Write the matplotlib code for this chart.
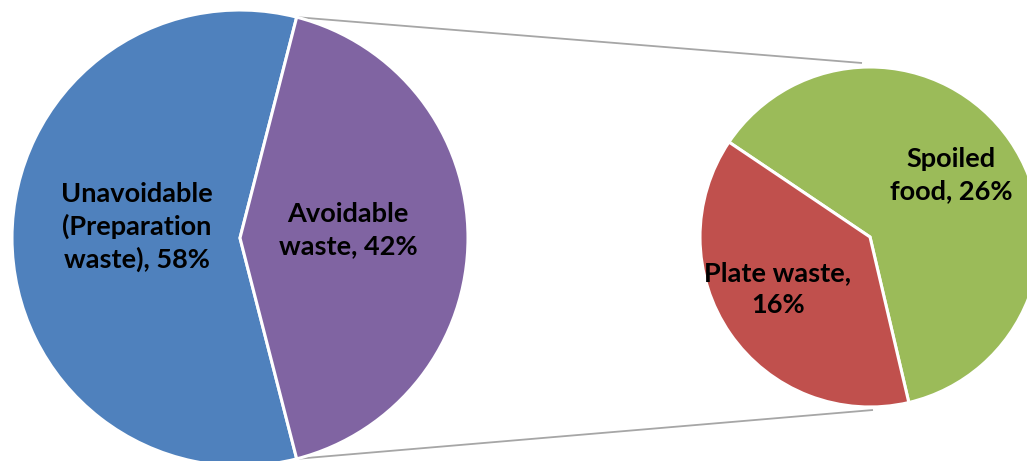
import numpy as np
import matplotlib.pyplot as plt

# main pie
main_labels = ['Unavoidable\n(Preparation\nwaste)', 'Avoidable\nwaste']
main_values = [58, 42]
main_colors = ['#4F81BD', '#8064A2']

# breakdown of the avoidable share
sub_labels = ['Spoiled\nfood', 'Plate waste,\n']
sub_values = [26, 16]
sub_colors = ['#9BBB59', '#C0504D']

W, H = 1027, 461
fig = plt.figure(figsize=(W / 100, H / 100), dpi=100)
ax = fig.add_axes([0, 0, 1, 1])

c1, r1 = (240, 223), 228
c2, r2 = (870, 224), 170

wedges1, _ = ax.pie(main_values, colors=main_colors, center=c1, radius=r1,
                    startangle=75.6, counterclock=True,
                    wedgeprops=dict(edgecolor='white', linewidth=2.2))
wedges2, _ = ax.pie(sub_values, colors=sub_colors, center=c2, radius=r2,
                    startangle=283.2, counterclock=True,
                    wedgeprops=dict(edgecolor='white', linewidth=2.2))

# connector lines from the avoidable slice to the second pie
av = wedges1[1]
for ang, end in [(av.theta2, (c2[0] - 8, c2[1] + r2 + 4)),
                 (av.theta1, (c2[0] + 3, c2[1] - r2 - 3))]:
    a = np.deg2rad(ang)
    start = (c1[0] + r1 * np.cos(a), c1[1] + r1 * np.sin(a))
    ax.plot([start[0], end[0]], [start[1], end[1]], color='#A6A6A6',
            lw=1.3, zorder=0, solid_capstyle='butt')

font = dict(fontsize=19.5, fontweight='bold', family=['Lato', 'DejaVu Sans'],
            ha='center', va='center', linespacing=1.38, color='black')

def label(name, val):
    sep = '' if name.endswith('\n') else ', '
    return f'{name}{sep}{val}%'

ax.text(137, H - 227, label(main_labels[0], main_values[0]), **font)
ax.text(348, H - 230, label(main_labels[1], main_values[1]), **font)
ax.text(951, H - 175, label(sub_labels[0], sub_values[0]), **font)
ax.text(778, H - 289, label(sub_labels[1], sub_values[1]), **font)

ax.set_xlim(0, W)
ax.set_ylim(0, H)
ax.set_aspect('equal')
ax.axis('off')

fig.savefig('out.png', dpi=100)
